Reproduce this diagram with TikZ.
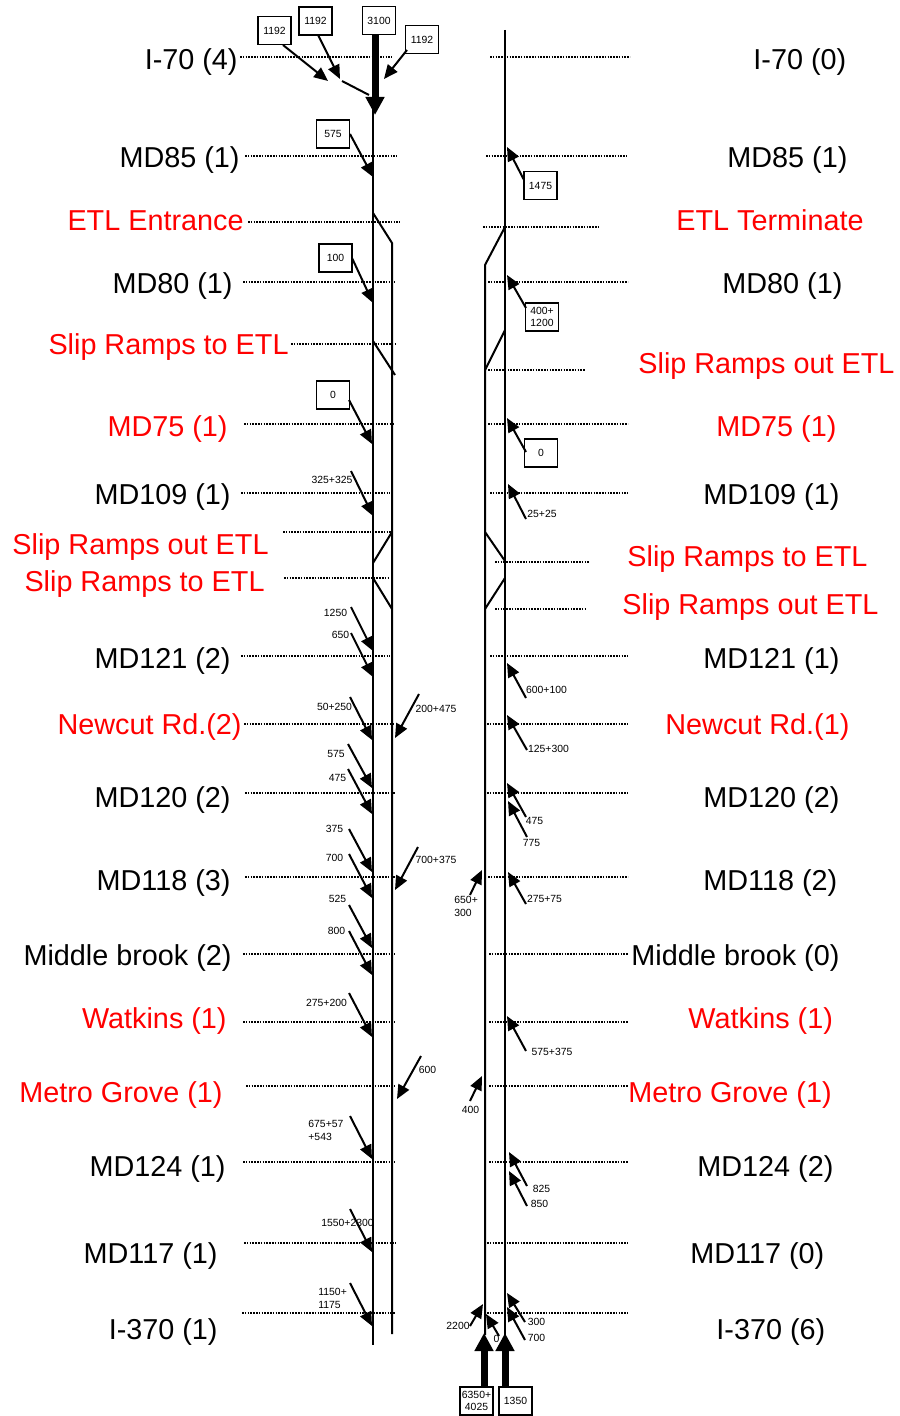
\documentclass[tikz,border=0pt]{standalone}
\usepackage{fontspec}
\setmainfont{Liberation Sans}
\usetikzlibrary{arrows.meta}
\begin{document}
\begin{tikzpicture}[x=0.5pt,y=-0.5pt,
 road/.style={line width=1pt},
 flow/.style={line width=1pt,-{Triangle[length=7pt,width=6pt]}},
 bigflow/.style={line width=3.5pt,-{Triangle[length=9pt,width=9pt]}},
 guide/.style={line width=0.55pt,dash pattern=on 0.8pt off 0.6pt},
 lbl/.style={inner sep=0pt,font=\fontsize{14.4}{17}\selectfont},
 lft/.style={lbl,anchor=base east},
 rgt/.style={lbl,anchor=base west},
 etl/.style={text=red},
 num/.style={inner sep=0pt,font=\fontsize{5.2}{6.2}\selectfont,align=left},
 numbox/.style={draw,line width=0.9pt,inner sep=0pt,minimum width=16.5pt,minimum height=14pt,font=\fontsize{5.2}{6.2}\selectfont,align=center}
]
\useasboundingbox (0,0) rectangle (899,1416);

% dotted guide lines
\foreach \a/\b/\y in {240/392/57,245/397/156,248/400/222,243/395/282,291/396/344,244/395/424,241/390/493,283/391/532,284/389/578,241/390/656,244/395/724,245/396/793,245/397/877,243/395/954,243/395/1022,246/395/1086,243/395/1162,244/396/1243,242/395/1313,
490/630/57,486/627/156,483/598/227,488/628/282,488/585/370,488/628/424,490/628/493,495/590/562,495/585/609,490/628/656,487/628/724,487/628/793,488/628/877,489/628/954,489/628/1022,489/628/1086,489/628/1162,487/628/1243,487/628/1313}
  \draw[guide] (\a,\y) -- (\b,\y);

% roads, left carriageway
\draw[road] (373,92) -- (373,1345);
\draw[road] (373,213) -- (392,243) -- (392,1334);
\draw[road] (373,341) -- (395,375);
\draw[road] (392,532) -- (373,563);
\draw[road] (373,578) -- (392,609);
\draw[road] (342,81) -- (369,95);
% roads, right carriageway
\draw[road] (505,30) -- (505,1335);
\draw[road] (505,227) -- (485,265) -- (485,1335);
\draw[road] (505,330) -- (485,370);
\draw[road] (485,532) -- (505,561);
\draw[road] (505,578) -- (485,609);

% location labels, left
\node[lft] (l1) at (238,70) {I-70 (4)};
\node[lft] (l2) at (240,168) {MD85 (1)};
\node[lft,etl] (l3) at (244,231) {ETL Entrance};
\node[lft] (l4) at (233,294) {MD80 (1)};
\node[lft,etl] (l5) at (289,355) {Slip Ramps to ETL};
\node[lft,etl] (l6) at (228,437) {MD75 (1)};
\node[lft] (l7) at (231,504) {MD109 (1)};
\node[lft,etl] (l8) at (269,554) {Slip Ramps out ETL};
\node[lft,etl] (l9) at (265,591) {Slip Ramps to ETL};
\node[lft] (l10) at (231,668) {MD121 (2)};
\node[lft,etl] (l11) at (242,734) {Newcut Rd.(2)};
\node[lft] (l12) at (231,807) {MD120 (2)};
\node[lft] (l13) at (231,890) {MD118 (3)};
\node[lft] (l14) at (232,965) {Middle brook (2)};
\node[lft,etl] (l15) at (227,1028) {Watkins (1)};
\node[lft,etl] (l16) at (223,1102) {Metro Grove (1)};
\node[lft] (l17) at (226,1176) {MD124 (1)};
\node[lft] (l18) at (218,1263) {MD117 (1)};
\node[lft] (l19) at (218,1339) {I-370 (1)};
% location labels, right
\node[rgt] (r1) at (753,70) {I-70 (0)};
\node[rgt] (r2) at (727,168) {MD85 (1)};
\node[rgt,etl] (r3) at (676,231) {ETL Terminate};
\node[rgt] (r4) at (722,294) {MD80 (1)};
\node[rgt,etl] (r5) at (638,374) {Slip Ramps out ETL};
\node[rgt,etl] (r6) at (716,437) {MD75 (1)};
\node[rgt] (r7) at (703,504) {MD109 (1)};
\node[rgt,etl] (r8) at (627,566) {Slip Ramps to ETL};
\node[rgt,etl] (r9) at (622,614) {Slip Ramps out ETL};
\node[rgt] (r10) at (703,668) {MD121 (1)};
\node[rgt,etl] (r11) at (665,734) {Newcut Rd.(1)};
\node[rgt] (r12) at (703,807) {MD120 (2)};
\node[rgt] (r13) at (703,890) {MD118 (2)};
\node[rgt] (r14) at (631,965) {Middle brook (0)};
\node[rgt,etl] (r15) at (688,1028) {Watkins (1)};
\node[rgt,etl] (r16) at (628,1102) {Metro Grove (1)};
\node[rgt] (r17) at (697,1176) {MD124 (2)};
\node[rgt] (r18) at (690,1263) {MD117 (0)};
\node[rgt] (r19) at (716,1339) {I-370 (6)};

% boxed volumes
\node[numbox] (b1) at (274.5,30.5) {1192};
\node[numbox] (b2) at (315.5,21) {1192};
\node[numbox] (b3) at (379,20.5) {3100};
\node[numbox] (b4) at (422,39.5) {1192};
\node[numbox] (b5) at (333,134) {575};
\node[numbox] (b6) at (540.5,185.5) {1475};
\node[numbox] (b7) at (335.5,258) {100};
\node[numbox] (b8) at (542,317) {400+\\1200};
\node[numbox] (b9) at (333,395) {0};
\node[numbox] (b10) at (541,453) {0};
\node[numbox] (b11) at (476.5,1401) {6350+\\4025};
\node[numbox] (b12) at (515.5,1401) {1350};

% unboxed volumes
\node[num] (n1) at (332,480) {325+325};
\node[num] (n2) at (542,514) {25+25};
\node[num] (n3) at (335.5,613) {1250};
\node[num] (n4) at (340.5,635) {650};
\node[num] (n5) at (546.5,690) {600+100};
\node[num] (n6) at (334.5,707) {50+250};
\node[num] (n7) at (436,709) {200+475};
\node[num] (n8) at (548.5,749) {125+300};
\node[num] (n9) at (336,754) {575};
\node[num] (n10) at (337.5,778) {475};
\node[num] (n11) at (534.5,821) {475};
\node[num] (n12) at (531.5,843) {775};
\node[num] (n13) at (334.5,829) {375};
\node[num] (n14) at (334.5,858) {700};
\node[num] (n15) at (436,860) {700+375};
\node[num,anchor=north west] (n16) at (454,896) {650+\\300};
\node[num] (n17) at (544.5,899) {275+75};
\node[num] (n18) at (337.5,899) {525};
\node[num] (n19) at (336.5,931) {800};
\node[num] (n20) at (326.5,1003) {275+200};
\node[num] (n21) at (552,1052) {575+375};
\node[num] (n22) at (427.5,1070) {600};
\node[num] (n23) at (470.5,1110) {400};
\node[num,anchor=north west] (n24) at (308,1120) {675+57\\+543};
\node[num] (n25) at (347.5,1223) {1550+2300};
\node[num,anchor=north west] (n26) at (318,1288) {1150+\\1175};
\node[num] (n27) at (541.5,1189) {825};
\node[num] (n28) at (539.5,1204) {850};
\node[num] (n29) at (458,1326) {2200};
\node[num] (n30) at (496.5,1339) {0};
\node[num] (n31) at (536.5,1322) {300};
\node[num] (n32) at (536.5,1338) {700};

% flow arrows
\foreach \n/\ax/\ay/\bx/\by in {
 1/283/45/328/81, 2/318/35/340/79, 3/407/50/384/79,
 5/350/134/373/177, 6/524/180/507/147, 7/352/258/373/303, 8/526/308/507/275,
 9/349/400/372/444, 10/526/452/507/418,
 11/351/471/373/516, 12/526/519/508/484, 13/351/607/373/651, 14/351/633/373/677,
 15/526/698/507/663, 16/350/697/372/740, 17/419/694/395/738, 18/527/750/507/715,
 19/348/744/372/788, 20/348/769/372/814, 21/526/817/507/783, 22/527/837/508/801,
 23/349/829/372/872, 24/349/854/372/898, 25/418/847/395/890, 26/470/895/482/870,
 27/526/904/508/872, 28/349/905/372/948, 29/349/931/372/975, 30/349/993/372/1037,
 31/526/1051/507/1016, 32/421/1056/397/1099, 33/470/1101/482/1076, 34/350/1116/372/1159,
 35/350/1209/372/1252, 36/350/1283/372/1326, 37/527/1186/509/1152, 38/527/1206/509/1171,
 39/470/1326/483/1304, 40/499/1336/486/1314, 41/525/1322/507/1293, 42/525/1340/507/1307}
 {\coordinate (s\n) at (\ax,\ay); \coordinate (e\n) at (\bx,\by); \draw[flow] (s\n) -- (e\n);}

% main inflows
\coordinate (t3) at (375,115);
\draw[bigflow] ([xshift=-2pt]b3.south) -- (t3);
\coordinate (t11) at (484,1333);
\draw[bigflow] ([xshift=3.75pt]b11.north) -- (t11);
\coordinate (t12) at (505,1333);
\draw[bigflow] ([xshift=-5.25pt]b12.north) -- (t12);
\end{tikzpicture}
\end{document}
